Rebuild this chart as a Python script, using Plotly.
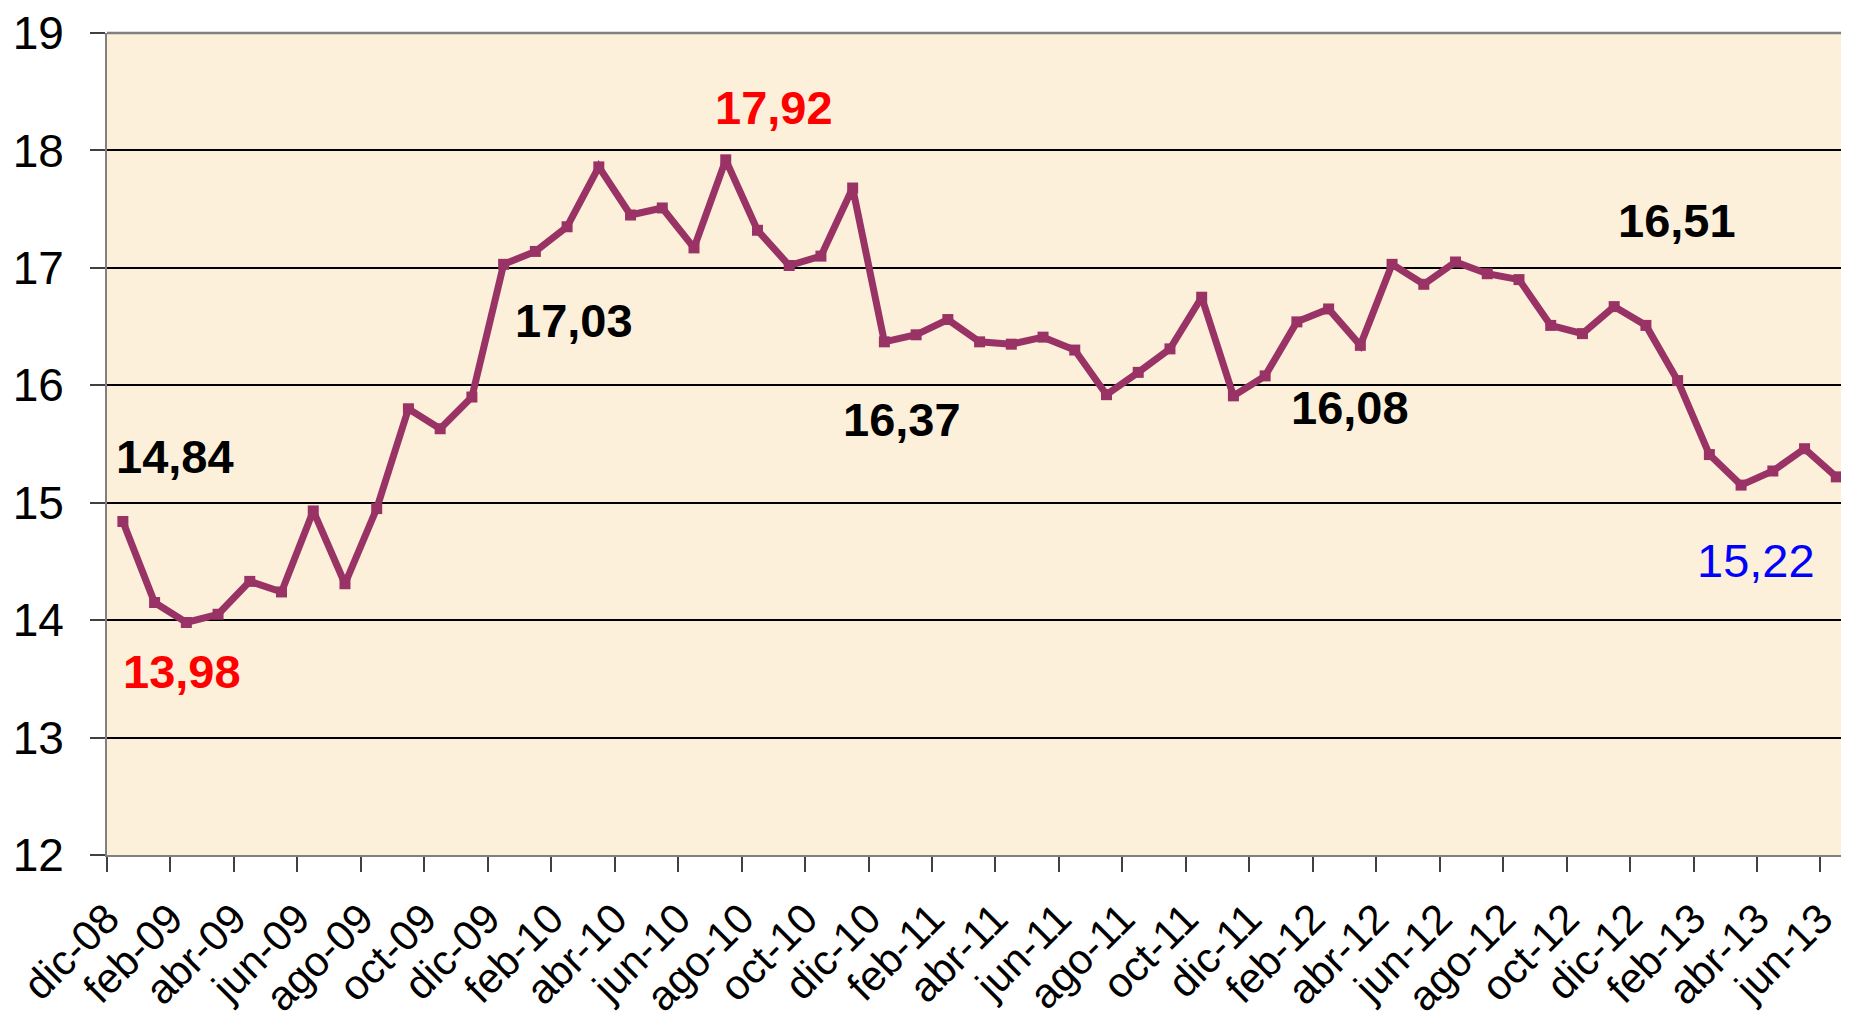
import plotly.graph_objects as go

months = [
    "dic-08", "ene-09", "feb-09", "mar-09", "abr-09", "may-09", "jun-09", "jul-09", "ago-09", "sep-09", "oct-09", "nov-09",
    "dic-09", "ene-10", "feb-10", "mar-10", "abr-10", "may-10", "jun-10", "jul-10", "ago-10", "sep-10", "oct-10", "nov-10",
    "dic-10", "ene-11", "feb-11", "mar-11", "abr-11", "may-11", "jun-11", "jul-11", "ago-11", "sep-11", "oct-11", "nov-11",
    "dic-11", "ene-12", "feb-12", "mar-12", "abr-12", "may-12", "jun-12", "jul-12", "ago-12", "sep-12", "oct-12", "nov-12",
    "dic-12", "ene-13", "feb-13", "mar-13", "abr-13", "may-13", "jun-13",
]

values = [
    14.84, 14.15, 13.98, 14.05, 14.33, 14.24, 14.93, 14.31, 14.95, 15.80, 15.63, 15.90,
    17.03, 17.14, 17.35, 17.86, 17.45, 17.51, 17.17, 17.92, 17.32, 17.02, 17.10, 17.68,
    16.37, 16.43, 16.56, 16.37, 16.35, 16.41, 16.30, 15.92, 16.11, 16.31, 16.75, 15.91,
    16.08, 16.54, 16.65, 16.34, 17.03, 16.86, 17.05, 16.95, 16.90, 16.51, 16.44, 16.67,
    16.51, 16.04, 15.41, 15.15, 15.27, 15.46, 15.22,
]

# labelled points: (month, colour, bold, xshift, yshift)
labelled = [
    ("dic-08", "black", True, 52, 65),
    ("feb-09", "red", True, -4, -49),
    ("dic-09", "black", True, 70, -56),
    ("jul-10", "red", True, 48, 52),
    ("dic-10", "black", True, 18, -78),
    ("dic-11", "black", True, 85, -32),
    ("dic-12", "black", True, 31, 105),
    ("jun-13", "#0000FF", False, -80, -84),
]

y_ticks = [12, 13, 14, 15, 16, 17, 18, 19]

idx = list(range(len(months)))
FONT = "Liberation Sans, Arial, sans-serif"

# the page body has an 8 px margin, so the figure is drawn 8 px in from the top-left
W, H = 1841, 1013
ML, MT, MB = 99, 25, 166

fig = go.Figure()
fig.add_trace(go.Scatter(
    x=idx, y=values, mode="lines+markers",
    line=dict(color="#993366", width=7),
    marker=dict(symbol="square", size=11, color="#993366"),
    hoverinfo="skip", showlegend=False, cliponaxis=False,
))

for m, col, bold, dx, dy in labelled:
    i = months.index(m)
    v = values[i]
    txt = f"{v:.2f}".replace(".", ",")
    if bold:
        txt = f"<b>{txt}</b>"
    fig.add_annotation(
        x=i, y=v, text=txt, showarrow=False, xshift=dx, yshift=dy,
        font=dict(family=FONT, size=47, color=col),
        xanchor="center", yanchor="middle",
    )

fig.update_layout(
    width=W, height=H,
    paper_bgcolor="white", plot_bgcolor="#FCF0DA",
    margin=dict(l=ML, r=0, t=MT, b=MB, autoexpand=False),
    showlegend=False,
)

# category axis: tick marks sit on the category boundaries (every second one),
# each carrying the label of the category that starts there
fig.update_xaxes(
    automargin=False,
    range=[-0.5, -0.5 + (W - ML) / 31.73],
    tickmode="array", tickvals=[i - 0.5 for i in idx[::2]], ticktext=months[::2],
    tickangle=-45, ticks="outside", ticklen=15, tickcolor="#404040", tickwidth=1.5,
    tickfont=dict(family=FONT, size=42, color="black"),
    ticklabelstandoff=5, ticklabeloverflow="allow",
    showgrid=False, zeroline=False,
    showline=True, linecolor="#808080", linewidth=2,
)

fig.update_yaxes(
    automargin=False,
    range=[12, 19], tickvals=y_ticks,
    ticks="outside", ticklen=15, tickcolor="#404040", tickwidth=1.5,
    tickfont=dict(family=FONT, size=46, color="black"),
    ticklabelstandoff=17, ticklabeloverflow="allow",
    showgrid=True, gridcolor="black", gridwidth=1.5,
    zeroline=False, showline=True, linecolor="#808080", linewidth=2,
)

# top border of plot area
fig.add_shape(type="line", xref="paper", yref="paper", x0=0, x1=1, y0=1, y1=1,
              line=dict(color="#808080", width=2.5))

fig.write_html("out.html")
